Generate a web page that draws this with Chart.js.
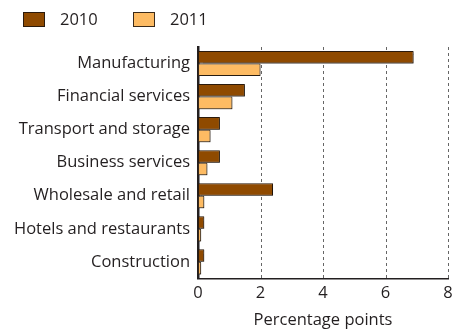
<!DOCTYPE html>
<html>
  <head>
    <title>Contribution by sector</title>
    <style>
      html, body { margin: 0; padding: 0; background: #fff; }
      #wrap { width: 453px; height: 330px; }
    </style>
  </head>
  <body>
    <div id="wrap"><canvas id="sectorChart" width="453" height="330"></canvas></div>

    <script src="https://cdn.jsdelivr.net/npm/chart.js@4/dist/chart.umd.min.js"></script>
    <script>
      // datos
      const sectors = ["Manufacturing", "Financial services", "Transport and storage",
                       "Business services", "Wholesale and retail", "Hotels and restaurants", "Construction"];
      const values2010 = [6.9, 1.5, 0.7, 0.7, 2.4, 0.2, 0.2];
      const values2011 = [2.0, 1.1, 0.4, 0.3, 0.2, 0.1, 0.1];
      const xTicks = [0, 2, 4, 6, 8];

      const textColor = "#231f20";
      const fontFamily = "'Open Sans', 'DejaVu Sans', sans-serif";
      const fontSize = 16.5;

      const ctx = document.getElementById("sectorChart").getContext("2d");

      const chart = new Chart(ctx, {
        type: "bar",
        data: {
          labels: sectors,
          datasets: [
            {
              label: "2010",
              data: values2010,
              backgroundColor: "#8f4a00",
              borderColor: "#2b1a0c",
              borderWidth: 1,
              borderSkipped: false
            },
            {
              label: "2011",
              data: values2011,
              backgroundColor: "#fdbb63",
              borderColor: "#3a2a1a",
              borderWidth: 1,
              borderSkipped: false
            }
          ]
        },
        options: {
          indexAxis: "y",
          responsive: false,
          animation: false,
          layout: { padding: { left: 6, right: 0, top: 47, bottom: 0 } },
          datasets: {
            bar: { categoryPercentage: 0.76, barPercentage: 1.0 }
          },
          plugins: {
            tooltip: { enabled: false },
            legend: { display: false }
          },
          scales: {
            x: {
              min: 0,
              max: 8,
              afterBuildTicks: (axis) => { axis.ticks = xTicks.map(v => ({ value: v })); },
              // el "8" puede llegar casi al borde
              afterFit: (axis) => { axis.paddingRight = 5; },
              border: { display: true, color: "#231f20", width: 1.5 },
              grid: { display: false, drawTicks: false },
              ticks: {
                color: textColor,
                padding: 5,
                font: { family: fontFamily, size: fontSize }
              },
              title: {
                display: true,
                text: "Percentage points",
                color: textColor,
                padding: { top: 2, bottom: 0 },
                font: { family: fontFamily, size: fontSize }
              }
            },
            y: {
              border: { display: true, color: "#231f20", width: 2.5 },
              grid: { display: false, drawTicks: false },
              ticks: {
                color: textColor,
                padding: 8,
                font: { family: fontFamily, size: fontSize }
              }
            }
          }
        },
        plugins: [{
          // lineas punteadas de la cuadricula
          id: "dashGrid",
          beforeDatasetsDraw(c) {
            const { ctx, chartArea, scales } = c;
            ctx.save();
            ctx.strokeStyle = "#666";
            ctx.lineWidth = 1;
            ctx.setLineDash([3, 3]);
            xTicks.slice(1).forEach(v => {
              const x = Math.round(scales.x.getPixelForValue(v)) + 0.5;
              ctx.beginPath();
              ctx.moveTo(x, chartArea.top);
              ctx.lineTo(x, chartArea.bottom);
              ctx.stroke();
            });
            ctx.restore();
          }
        }, {
          // sombra ligera de las barras
          id: "barShadow",
          beforeDatasetDraw(c) {
            c.ctx.save();
            c.ctx.shadowColor = "rgba(0,0,0,0.35)";
            c.ctx.shadowOffsetX = 1;
            c.ctx.shadowOffsetY = 1;
            c.ctx.shadowBlur = 1;
          },
          afterDatasetDraw(c) {
            c.ctx.restore();
          }
        }, {
          // leyenda arriba a la izquierda
          id: "topLegend",
          afterDraw(c) {
            const { ctx } = c;
            const items = c.data.datasets.map((ds, i) => ({ ds, x: [23, 133][i] }));
            ctx.save();
            ctx.font = fontSize + "px " + fontFamily;
            ctx.textBaseline = "middle";
            items.forEach(({ ds, x }) => {
              ctx.fillStyle = ds.backgroundColor;
              ctx.fillRect(x, 12, 22, 15);
              ctx.strokeStyle = ds.borderColor;
              ctx.lineWidth = 1;
              ctx.strokeRect(x + 0.5, 12.5, 21, 14);
              ctx.fillStyle = textColor;
              ctx.fillText(ds.label, x + 37, 20);
            });
            ctx.restore();
          }
        }]
      });
    </script>
  </body>
</html>
